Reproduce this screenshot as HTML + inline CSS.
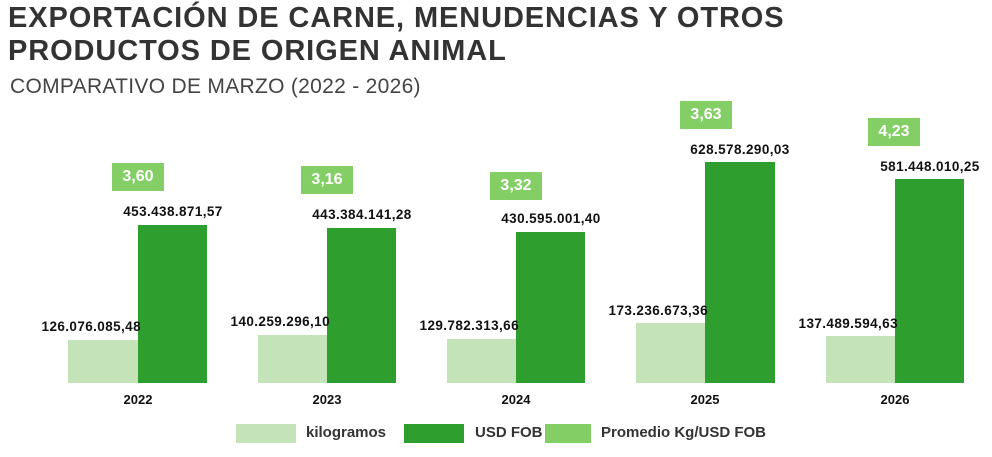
<!DOCTYPE html>
<html><head><meta charset="utf-8"><style>
body{margin:0;width:992px;height:457px;background:#fff;position:relative;overflow:hidden;font-family:"Liberation Sans",sans-serif}
div{position:absolute}
.t{left:8px;font-weight:bold;font-size:29px;color:#333;letter-spacing:0.9px;white-space:nowrap}
.s{left:10px;top:75px;font-size:21px;color:#444;white-space:nowrap;letter-spacing:0.3px}
.l{background:#c5e3b8}.d{background:#2e9f2e}
.b{background:#83cf65;color:#fff;font-weight:bold;font-size:16px;text-align:center;line-height:28px;width:52px;height:28px}
.v{font-weight:bold;font-size:13.5px;color:#111;white-space:nowrap;width:130px;letter-spacing:0.4px}
.vc{text-align:center}.vr{text-align:right}
.y{font-weight:bold;font-size:13px;color:#111;width:80px;text-align:center;top:392px}
.g{font-weight:bold;font-size:15px;color:#333;top:424px;white-space:nowrap}
</style></head><body>
<div class="t" style="top:2px">EXPORTACIÓN DE CARNE, MENUDENCIAS Y OTROS</div>
<div class="t" style="top:35px">PRODUCTOS DE ORIGEN ANIMAL</div>
<div class="s">COMPARATIVO DE MARZO (2022 - 2026)</div>

<div class="l" style="left:68px;top:340px;width:70px;height:43px"></div>
<div class="d" style="left:138px;top:225px;width:69px;height:158px"></div>
<div class="b" style="left:112px;top:163px">3,60</div>
<div class="v vc" style="left:108px;top:204px">453.438.871,57</div>
<div class="v vr" style="left:11px;top:319px">126.076.085,48</div>
<div class="y" style="left:98px">2022</div>

<div class="l" style="left:258px;top:335px;width:69px;height:48px"></div>
<div class="d" style="left:327px;top:228px;width:69px;height:155px"></div>
<div class="b" style="left:301px;top:166px">3,16</div>
<div class="v vc" style="left:297px;top:207px">443.384.141,28</div>
<div class="v vr" style="left:200px;top:314px">140.259.296,10</div>
<div class="y" style="left:287px">2023</div>

<div class="l" style="left:447px;top:339px;width:69px;height:44px"></div>
<div class="d" style="left:516px;top:232px;width:69px;height:151px"></div>
<div class="b" style="left:490px;top:172px">3,32</div>
<div class="v vc" style="left:486px;top:211px">430.595.001,40</div>
<div class="v vr" style="left:389px;top:318px">129.782.313,66</div>
<div class="y" style="left:476px">2024</div>

<div class="l" style="left:636px;top:323px;width:69px;height:60px"></div>
<div class="d" style="left:705px;top:162px;width:70px;height:221px"></div>
<div class="b" style="left:680px;top:101px">3,63</div>
<div class="v vc" style="left:675px;top:142px">628.578.290,03</div>
<div class="v vr" style="left:578px;top:303px">173.236.673,36</div>
<div class="y" style="left:665px">2025</div>

<div class="l" style="left:826px;top:336px;width:69px;height:47px"></div>
<div class="d" style="left:895px;top:179px;width:69px;height:204px"></div>
<div class="b" style="left:868px;top:118px">4,23</div>
<div class="v vc" style="left:865px;top:159px">581.448.010,25</div>
<div class="v vr" style="left:768px;top:316px">137.489.594,63</div>
<div class="y" style="left:855px">2026</div>

<div class="l" style="left:236px;top:424px;width:60px;height:19px"></div>
<div class="g" style="left:306px">kilogramos</div>
<div class="d" style="left:404px;top:424px;width:60px;height:19px"></div>
<div class="g" style="left:475px">USD FOB</div>
<div style="left:545px;top:424px;width:46px;height:19px;background:#83cf65"></div>
<div class="g" style="left:601px">Promedio Kg/USD FOB</div>
</body></html>
